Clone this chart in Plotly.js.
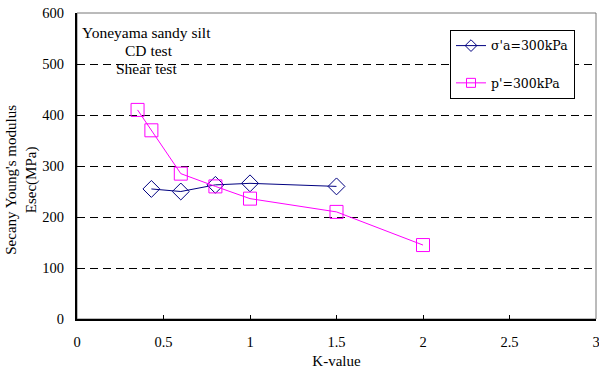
<!DOCTYPE html>
<html><head><meta charset="utf-8">
<script src="https://cdn.plot.ly/plotly-3.0.1.min.js"></script>
<style>body{margin:0;padding:0;background:#fff}#c{width:599px;height:376px}</style>
</head><body><div id="c"></div>
<script>
const kSigma = [0.43, 0.6, 0.8, 1.0, 1.5];
const eSigma = [255, 250, 263, 266, 260];
const kP = [0.35, 0.43, 0.6, 0.8, 1.0, 1.5, 2.0];
const eP = [410, 370, 285, 260, 236, 210, 145];
const seriesNames = ["σ'a=300kPa", "p'=300kPa"];
const notes = ["Yoneyama sandy silt", "CD test", "Shear test"];
const yTitle = "Secany Young's modulus<br>Esec(MPa)";
const xTitle = "K-value";

function f(size) { return {family: "'Liberation Serif', 'Times New Roman', serif", size: size || 14, color: "#000"}; }
const blue = "#000080", pink = "#FF00FF";
const traces = [
  {x: kSigma, y: eSigma, name: seriesNames[0], type: "scatter", mode: "lines+markers", showlegend: false,
   line: {color: blue, width: 1}, marker: {symbol: "diamond-open", size: 13, color: blue, line: {width: 1}}},
  {x: kP, y: eP, name: seriesNames[1], type: "scatter", mode: "lines+markers", showlegend: false,
   line: {color: pink, width: 1}, marker: {symbol: "square-open", size: 13, color: pink, line: {width: 1}}},
  {x: [null], y: [null], name: seriesNames[0], type: "scatter", mode: "lines+markers", legendgroup: "a",
   line: {color: blue, width: 1}, marker: {symbol: "diamond-open", size: 9, color: blue, line: {width: 1}}},
  {x: [null], y: [null], name: seriesNames[1], type: "scatter", mode: "lines+markers", legendgroup: "b",
   line: {color: pink, width: 1}, marker: {symbol: "square-open", size: 9, color: pink, line: {width: 1}}}
];
const layout = {
  width: 599, height: 376,
  margin: {l: 77, r: 3, t: 13, b: 56.5},
  paper_bgcolor: "#fff", plot_bgcolor: "#fff",
  font: f(14.5),
  showlegend: true,
  legend: {x: 0.7187, y: 0.9445, xanchor: "left", yanchor: "top", bgcolor: "#fff",
           bordercolor: "#000", borderwidth: 1, traceorder: "grouped", tracegroupgap: 18,
           itemwidth: 30,
           font: {family: "'DejaVu Serif', serif", size: 12.5, color: "#000"}},
  xaxis: {range: [0, 3], dtick: 0.5, tick0: 0, showgrid: false, zeroline: false,
          showline: true, linecolor: "#000", linewidth: 2,
          ticks: "inside", ticklen: 4, tickcolor: "#000", tickwidth: 1,
          ticklabeloverflow: "allow", ticklabelstandoff: 9,
          tickfont: f(14.5),
          title: {text: xTitle, font: f(15), standoff: 6}},
  yaxis: {range: [0, 600], dtick: 100, tick0: 0, showgrid: true, gridcolor: "#000", gridwidth: 1,
          griddash: "8px,5px", zeroline: false, ticklabeloverflow: "allow", ticklabelstandoff: 8,
          showline: true, linecolor: "#000", linewidth: 2, ticks: "", tickfont: f(14.5)},
  shapes: [
    {type: "rect", xref: "paper", yref: "paper", x0: 0, x1: 1, y0: 0, y1: 1,
     line: {color: "#777", width: 1}, layer: "below"}
  ],
  annotations: [
    {text: notes[0], xref: "paper", yref: "paper", x: 0.133, y: 0.9364, showarrow: false, xanchor: "center", yanchor: "middle", font: f(15.5)},
    {text: notes[1], xref: "paper", yref: "paper", x: 0.138, y: 0.876, showarrow: false, xanchor: "center", yanchor: "middle", font: f(15.5)},
    {text: notes[2], xref: "paper", yref: "paper", x: 0.134, y: 0.817, showarrow: false, xanchor: "center", yanchor: "middle", font: f(15.5)},
    {text: yTitle, xref: "paper", yref: "paper", x: 0, xshift: -55, y: 0.455, textangle: -90, showarrow: false,
     xanchor: "center", yanchor: "middle", font: f(15)}
  ]
};
Plotly.newPlot("c", traces, layout, {displayModeBar: false, staticPlot: true});
</script></body></html>
